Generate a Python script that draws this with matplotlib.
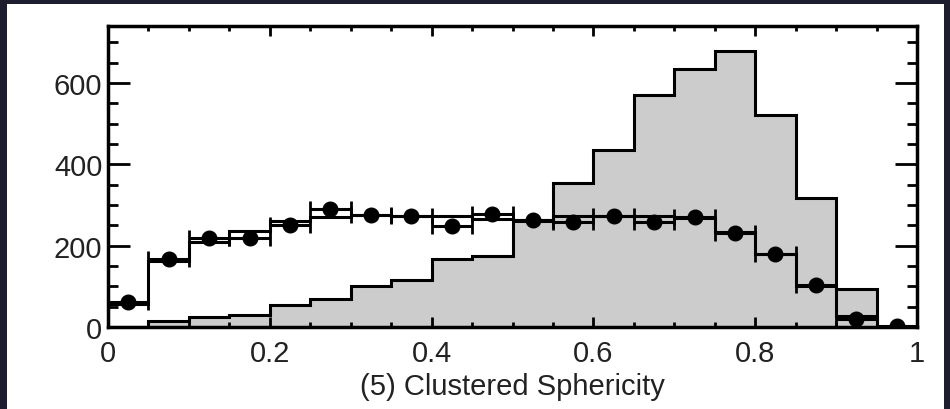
import numpy as np
import matplotlib
matplotlib.use("Agg")
from matplotlib import pyplot as plt
from matplotlib.patches import Rectangle
from matplotlib.ticker import MultipleLocator

plt.rcParams['font.family'] = ['Liberation Sans', 'DejaVu Sans']

edges = np.linspace(0, 1, 21)
centers = (edges[:-1] + edges[1:]) / 2

# grey filled histogram
signal = [0, 15, 25, 30, 55, 70, 101, 116, 168, 175, 260, 355, 435, 570, 635, 679, 521, 318, 94, 0]
# open step histogram
background = [57, 163, 210, 235, 260, 270, 275, 272, 272, 265, 262, 272, 272, 272, 268, 234, 180, 100, 28, 0]
# points
data = [61, 168, 219, 219, 250, 290, 276, 272, 249, 277, 264, 258, 274, 258, 270, 232, 180, 104, 20, 2]

fig = plt.figure(figsize=(9.5, 4.1), dpi=100)
fig.patch.set_facecolor('#1e1d2f')
fig.patches.append(Rectangle((7 / 950, 0), (944 - 7) / 950, (410 - 5) / 410,
                             transform=fig.transFigure, facecolor='white',
                             edgecolor='none', zorder=-10))

ax = fig.add_axes([108 / 950, 1 - 328 / 410, (917 - 108) / 950, (328 - 27) / 410])

ax.stairs(signal, edges, fill=True, facecolor='#cccccc', edgecolor='none', zorder=1)
ax.stairs(signal, edges, color='black', lw=2.2, zorder=2)
ax.stairs(background, edges, color='black', lw=2.2, zorder=3)
ax.errorbar(centers, data, xerr=0.025, fmt='o', color='black', ms=10.5,
            elinewidth=2.2, capsize=6, capthick=2, zorder=4)

ax.set_xlim(0, 1)
ax.set_ylim(0, 740)
ax.xaxis.set_minor_locator(MultipleLocator(0.05))
ax.yaxis.set_major_locator(MultipleLocator(200))
ax.yaxis.set_minor_locator(MultipleLocator(50))
ax.set_xticks([0, 0.2, 0.4, 0.6, 0.8, 1.0])
ax.set_xticklabels(['0', '0.2', '0.4', '0.6', '0.8', '1'])

ax.tick_params(which='both', direction='in', top=True, right=True, width=2,
               labelsize=21, labelcolor='#222222')
ax.tick_params(axis='x', which='major', length=7, pad=9)
ax.tick_params(axis='x', which='minor', length=3.5)
ax.tick_params(axis='y', which='major', length=16, pad=4)
ax.tick_params(axis='y', which='minor', length=7)
for s in ax.spines.values():
    s.set_linewidth(2.5)

ax.set_xlabel('(5) Clustered Sphericity', fontsize=21, labelpad=3, color='#222222')

fig.savefig('out.png', dpi=100, facecolor=fig.get_facecolor())
